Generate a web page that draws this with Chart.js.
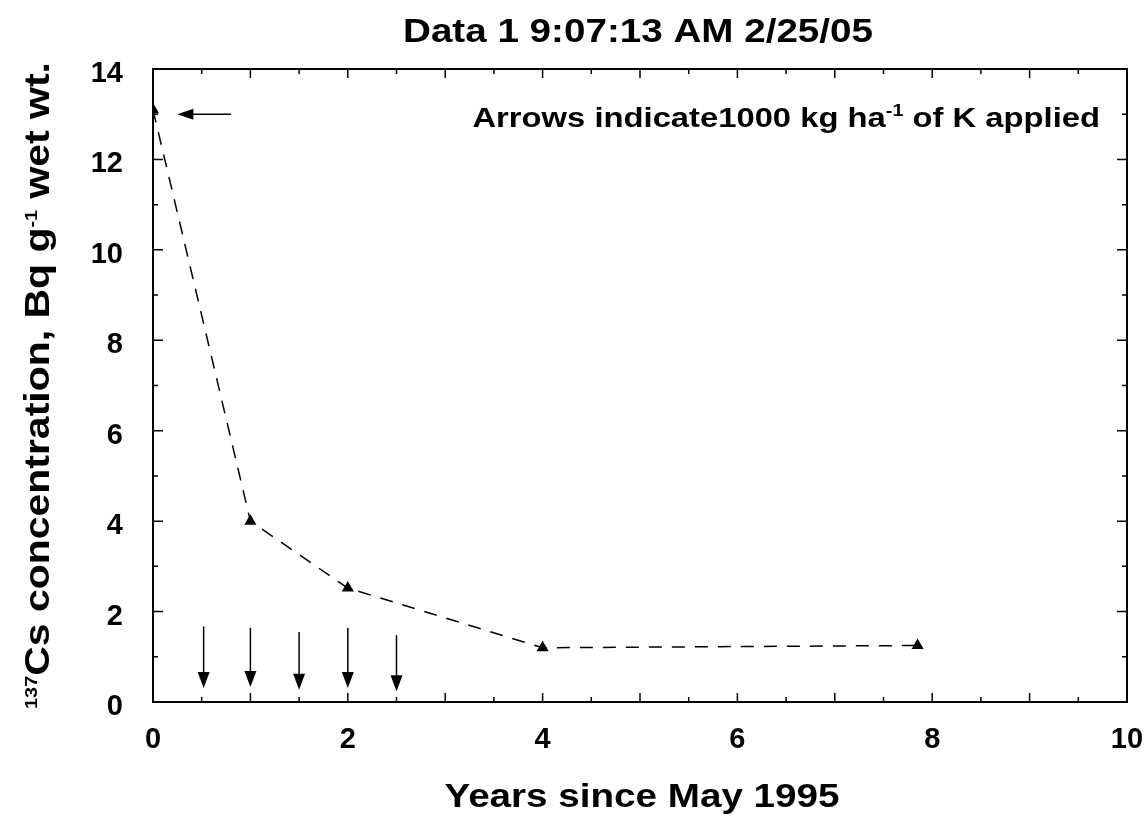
<!DOCTYPE html>
<html>
<head>
<meta charset="utf-8">
<script src="https://cdn.jsdelivr.net/npm/chart.js@4.4.1/dist/chart.umd.min.js"></script>
<style>
  html, body { margin: 0; padding: 0; background: #fff; }
  #wrap { width: 1148px; height: 820px; }
</style>
</head>
<body>
<div id="wrap"><canvas id="myChart" width="1148" height="820"></canvas></div>
<script>
// measured values
var years = [0, 1, 2, 4, 7.85];
var csConc = [13.1, 4.0, 2.52, 1.2, 1.25];

// K application arrows (down arrows)
var arrowX = [0.52, 1.0, 1.5, 2.0, 2.5];
var arrowTop = [1.67, 1.64, 1.55, 1.64, 1.48];
var arrowTip = [0.31, 0.33, 0.27, 0.31, 0.24];

// pointer arrow next to the first point
var pointerFrom = [0.8, 13.0];
var pointerTo = [0.25, 13.0];

var xTicks = [0, 2, 4, 6, 8, 10];
var yTicks = [0, 2, 4, 6, 8, 10, 12, 14];

var FONT = '"Liberation Sans", Arial, Helvetica, sans-serif';
var STRETCH = 1.17; // text in the original is set wider than Liberation Sans

function arrowHead(c, x, y, dx, dy, len, half) {
    // tip at (x,y), pointing in direction (dx,dy)
    c.beginPath();
    c.moveTo(x, y);
    c.lineTo(x - dx * len - dy * half, y - dy * len + dx * half);
    c.lineTo(x - dx * len + dy * half, y - dy * len - dx * half);
    c.closePath();
    c.fill();
}

// parts: [text, size, raise]; draws in current (translated) frame, stretched
function partsWidth(c, parts) {
    var w = 0;
    parts.forEach(function(p){
        c.font = 'bold ' + p[1] + 'px ' + FONT;
        w += c.measureText(p[0]).width;
    });
    return w * STRETCH;
}
function drawParts(c, parts, x, y) {
    c.save();
    c.translate(x, y);
    c.scale(STRETCH, 1);
    c.textAlign = 'left';
    c.textBaseline = 'alphabetic';
    var cx = 0;
    parts.forEach(function(p){
        c.font = 'bold ' + p[1] + 'px ' + FONT;
        c.fillText(p[0], cx, -p[2]);
        cx += c.measureText(p[0]).width;
    });
    c.restore();
}

var decor = {
    id: 'decor',
    afterDraw: function(chart) {
        var c = chart.ctx, a = chart.chartArea;
        var xs = chart.scales.x, ys = chart.scales.y;
        c.save();
        c.strokeStyle = '#000';
        c.fillStyle = '#000';
        c.lineWidth = 2;
        c.strokeRect(a.left, a.top, a.right - a.left, a.bottom - a.top);

        // inward ticks, all four sides
        c.lineWidth = 1.5;
        c.beginPath();
        for (var v = 0; v <= 10.001; v += 0.5) {
            var px = xs.getPixelForValue(v);
            var L = (Math.abs(v - Math.round(v)) < 0.01) ? 9 : 5;
            c.moveTo(px, a.bottom); c.lineTo(px, a.bottom - L);
            c.moveTo(px, a.top); c.lineTo(px, a.top + L);
        }
        for (var w = 0; w <= 14; w += 1) {
            var py = ys.getPixelForValue(w);
            var L2 = (w % 2 === 0) ? 10 : 5;
            c.moveTo(a.left, py); c.lineTo(a.left + L2, py);
            c.moveTo(a.right, py); c.lineTo(a.right - L2, py);
        }
        c.stroke();

        // down arrows
        c.lineWidth = 1.5;
        for (var i = 0; i < arrowX.length; i++) {
            var ax = xs.getPixelForValue(arrowX[i]);
            var y1 = ys.getPixelForValue(arrowTop[i]);
            var y2 = ys.getPixelForValue(arrowTip[i]);
            c.beginPath(); c.moveTo(ax, y1); c.lineTo(ax, y2 - 12); c.stroke();
            arrowHead(c, ax, y2, 0, 1, 16, 6);
        }
        // pointer arrow
        var p1x = xs.getPixelForValue(pointerFrom[0]), p1y = ys.getPixelForValue(pointerFrom[1]);
        var p2x = xs.getPixelForValue(pointerTo[0]), p2y = ys.getPixelForValue(pointerTo[1]);
        c.beginPath(); c.moveTo(p1x, p1y); c.lineTo(p2x + 12, p2y); c.stroke();
        arrowHead(c, p2x, p2y, -1, 0, 16, 5.5);

        // chart title
        var t = [['Data 1 9:07:13 AM 2/25/05', 33, 0]];
        drawParts(c, t, 638 - partsWidth(c, t) / 2, 42);

        // x title
        var xt = [['Years since May 1995', 33, 0]];
        drawParts(c, xt, 642 - partsWidth(c, xt) / 2, 807);

        // annotation
        var ann = [['Arrows indicate1000 kg ha', 28, 0], ['-1', 17, 11], [' of K applied', 28, 0]];
        drawParts(c, ann, 1100 - partsWidth(c, ann), 127);

        // y title, rotated
        var yt = [['137', 17, 12], ['Cs concentration, Bq g', 35, 0], ['-1', 17, 12], [' wet wt.', 35, 0]];
        var yw = partsWidth(c, yt);
        c.translate(49, (a.top + a.bottom) / 2);
        c.rotate(-Math.PI / 2);
        drawParts(c, yt, -yw / 2, 0);
        c.restore();
    }
};

var pts = years.map(function(x, i){ return {x: x, y: csConc[i]}; });

var graphData = {
    type: 'scatter',
    data: {
        datasets: [{
            label: 'Data 1',
            data: pts,
            showLine: true,
            borderColor: '#000',
            borderWidth: 1.5,
            borderDash: [13, 10],
            pointStyle: 'triangle',
            pointRadius: 7,
            pointBackgroundColor: '#000',
            pointBorderColor: '#000',
            pointBorderWidth: 0
        }]
    },
    options: {
        responsive: false,
        animation: false,
        layout: { padding: { top: 69, right: 21, left: 0, bottom: 0 } },
        plugins: { legend: { display: false }, tooltip: { enabled: false } },
        scales: {
            x: {
                type: 'linear', min: 0, max: 10,
                afterFit: function(s){ s.height = 118; s.paddingLeft = 0; s.paddingRight = 0; },
                afterBuildTicks: function(s){ s.ticks = xTicks.map(function(v){ return {value: v}; }); },
                grid: { display: false, drawTicks: false },
                border: { display: false },
                ticks: { color: '#000', padding: 21, font: { family: FONT, size: 29, weight: 'bold' } }
            },
            y: {
                type: 'linear', min: 0, max: 14,
                afterFit: function(s){ s.width = 153; s.paddingTop = 0; s.paddingBottom = 0; },
                afterBuildTicks: function(s){ s.ticks = yTicks.map(function(v){ return {value: v}; }); },
                grid: { display: false, drawTicks: false },
                border: { display: false },
                ticks: { color: '#000', padding: 30, labelOffset: 5, font: { family: FONT, size: 29, weight: 'bold' } }
            }
        }
    },
    plugins: [decor]
};

var myChart = new Chart(document.getElementById('myChart'), graphData);
</script>
</body>
</html>
